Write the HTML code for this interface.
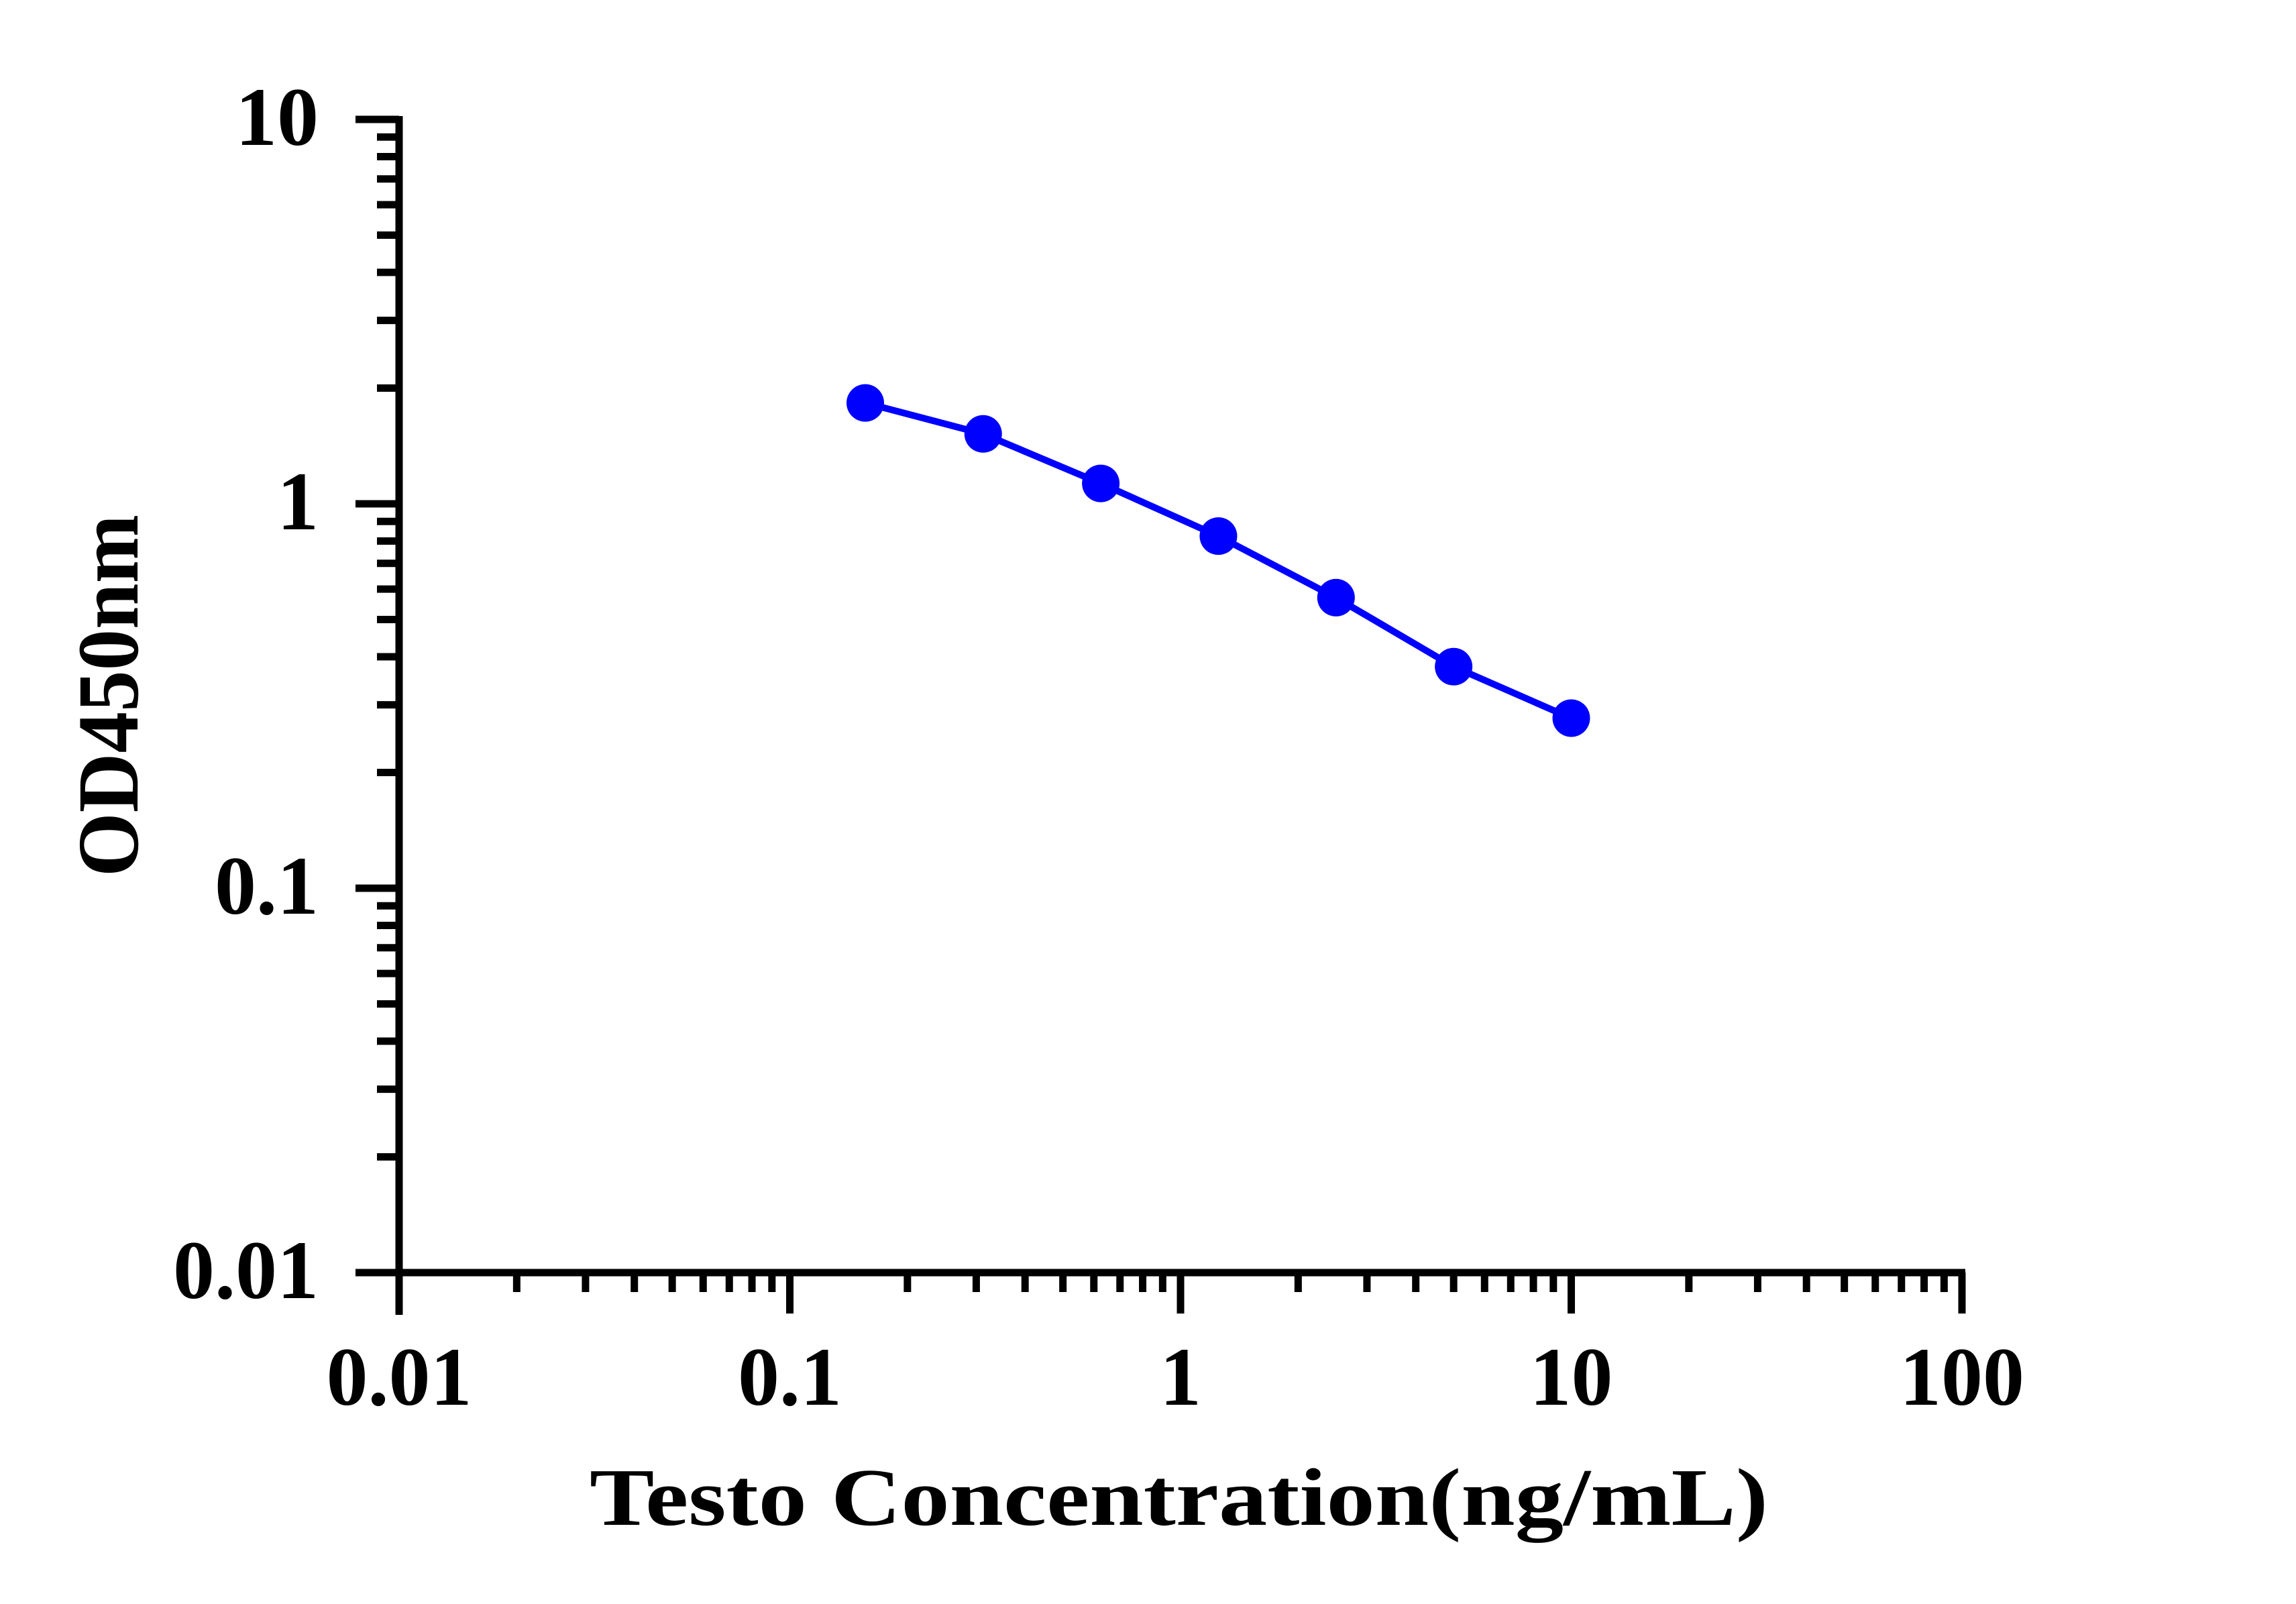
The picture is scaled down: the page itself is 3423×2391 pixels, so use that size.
<!DOCTYPE html>
<html><head><meta charset="utf-8"><style>
html,body{margin:0;padding:0;background:#fff;}
svg{display:block;}
text{font-family:"Liberation Serif",serif;font-weight:bold;fill:#000;}
</style></head><body>
<svg id="chart" width="3423" height="2391" viewBox="0 0 3423 2391" xmlns="http://www.w3.org/2000/svg">
<g id="axes"></g>
<g id="series"></g>
<text x="879" y="2273" font-size="122" textLength="1757" lengthAdjust="spacingAndGlyphs">Testo Concentration(ng/mL)</text>
<text transform="translate(205,1307) rotate(-90)" font-size="130" textLength="540" lengthAdjust="spacingAndGlyphs">OD450nm</text>
</svg>
<script>
const concentrations = [0.156, 0.3125, 0.625, 1.25, 2.5, 5, 10];
const odValues = [1.83, 1.52, 1.13, 0.824, 0.57, 0.377, 0.277];
const xTickLabels = ["0.01", "0.1", "1", "10", "100"];
const yTickLabels = ["0.01", "0.1", "1", "10"];

const NS = "http://www.w3.org/2000/svg";
const X0 = 595, XDEC = 582.5, XMIN = 0.01;
const Y0 = 1897, YDEC = 573, YMIN = 0.01;
function xs(v){ return X0 + Math.log10(v / XMIN) * XDEC; }
function ys(v){ return Y0 - Math.log10(v / YMIN) * YDEC; }
function mk(tag, attrs, parent){
  const e = document.createElementNS(NS, tag);
  for (const k in attrs) e.setAttribute(k, attrs[k]);
  parent.appendChild(e);
  return e;
}
const axes = document.getElementById('axes');
const series = document.getElementById('series');
const SW = 11;

// axis lines
let l = mk('line', {x1: 530, y1: Y0, x2: xs(100)+5, y2: Y0, stroke: '#000', 'stroke-width': SW}, axes);


l = mk('line', {x1: X0, y1: ys(10)-5, x2: X0, y2: 1960, stroke: '#000', 'stroke-width': SW}, axes);



// x ticks
xTickLabels.forEach((lab, i) => {
  const v = parseFloat(lab);
  const x = xs(v);
  if (i > 0) {
    const t = mk('line', {x1: x, y1: Y0, x2: x, y2: 1958, stroke: '#000', 'stroke-width': SW}, axes);
    
    
  }
  const tx = mk('text', {x: x, y: 2094, 'font-size': 124, 'text-anchor': 'middle'}, axes);
  tx.textContent = lab;
  
  
  if (i < xTickLabels.length - 1) {
    for (let m = 2; m <= 9; m++) {
      const mx = xs(v * m);
      const mt = mk('line', {x1: mx, y1: Y0, x2: mx, y2: 1926, stroke: '#000', 'stroke-width': SW}, axes);
      
      
    }
  }
});

// y ticks
yTickLabels.forEach((lab, i) => {
  const v = parseFloat(lab);
  const y = ys(v);
  const t = mk('line', {x1: 530, y1: y, x2: X0, y2: y, stroke: '#000', 'stroke-width': SW}, axes);
  
  
  const tx = mk('text', {x: 475, y: y + 38, 'font-size': 124, 'text-anchor': 'end'}, axes);
  tx.textContent = lab;
  
  
  if (i < yTickLabels.length - 1) {
    for (let m = 2; m <= 9; m++) {
      const my = ys(v * m);
      const mt = mk('line', {x1: 562, y1: my, x2: X0, y2: my, stroke: '#000', 'stroke-width': SW}, axes);
      
      
    }
  }
});

// series line
const pts = concentrations.map((c, i) => xs(c).toFixed(1) + ',' + ys(odValues[i]).toFixed(1)).join(' ');
const pl = mk('polyline', {points: pts, fill: 'none', stroke: '#0000ff', 'stroke-width': 10}, series);


concentrations.forEach((c, i) => {
  const p = mk('circle', {cx: xs(c), cy: ys(odValues[i]), r: 28, fill: '#0000ff'}, series);
  
  
});
</script>
</body></html>
